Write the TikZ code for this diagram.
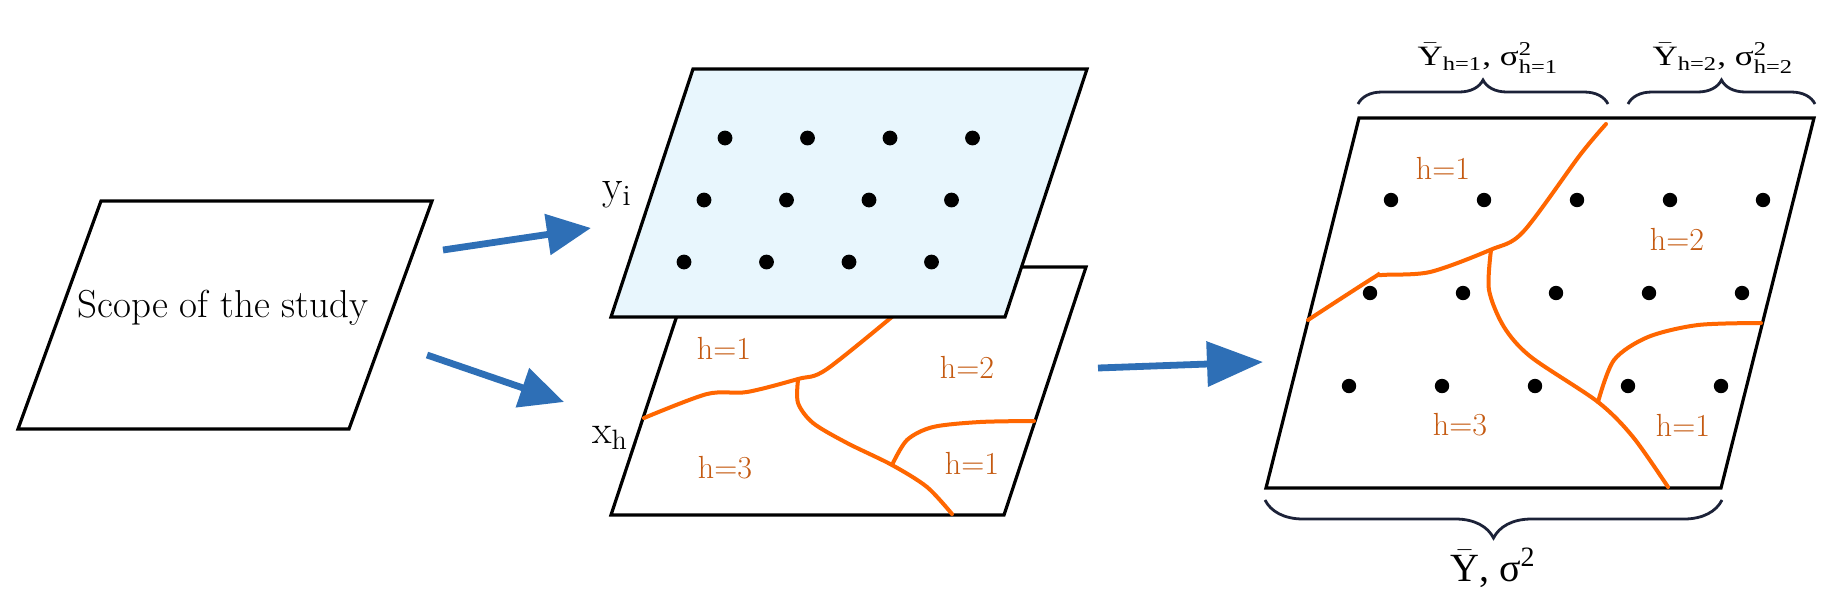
\documentclass[tikz,border=0pt]{standalone}
\usepackage{fontspec}
\usepackage{amsmath}
\usepackage{graphicx}
\newfontfamily\tms{Liberation Serif}
\usetikzlibrary{arrows.meta, decorations.pathreplacing}
\definecolor{flowblue}{RGB}{46,111,182}
\definecolor{paneblue}{RGB}{232,246,253}
\definecolor{bndorange}{RGB}{255,102,0}
\definecolor{laborange}{RGB}{197,90,17}
\definecolor{brcnavy}{RGB}{28,34,56}

\begin{document}
\begin{tikzpicture}[x=0.5pt,y=-0.5pt,
    panel/.style={draw=black,line width=1.6pt},
    bound/.style={draw=bndorange,line width=2pt,line cap=round},
    lab/.style={text=laborange,font=\fontsize{16}{18}\selectfont,inner sep=0pt},
    flow/.style={draw=flowblue,line width=3.4pt,-{Triangle[length=22pt,width=20pt]}},
    brc/.style={draw=brcnavy,line width=1.4pt,decorate,decoration={brace,amplitude=#1}},
    stat/.style={font=\tms\fontsize{14}{16}\selectfont,inner sep=0pt}]
  \useasboundingbox (0,0) rectangle (1831,606);

  \draw[panel,fill=white] (18,429) -- (349,429) -- (432,201) -- (101,201) -- cycle;
  \node[font=\fontsize{19.5}{22}\selectfont] (scope) at (223,308) {Scope of the study};

  \draw[panel,fill=white] (611,515) -- (1004,515) -- (1086,267) -- (693,267) -- cycle;
  \draw[bound] plot[smooth,tension=0.5] coordinates {(644,418) (707,394) (747,392) (798,379) (827,369) (905,306)};
  \draw[bound] plot[smooth,tension=0.5] coordinates {(798,380) (798,403) (813,423) (847,443) (892,465) (927,487) (952,514)};
  \draw[bound] plot[smooth,tension=0.5] coordinates {(892,465) (907,440) (933,427) (980,422) (1034,421)};
  \draw[panel,fill=paneblue] (611,317) -- (1005,317) -- (1087,69) -- (693,69) -- cycle;
  \foreach \k in {0,...,3} {
    \fill (725+82.5*\k,138) circle (3.7pt);
    \fill (704+82.5*\k,200) circle (3.7pt);
    \fill (684+82.5*\k,262) circle (3.7pt);
  }
  \node[font=\fontsize{21}{24}\selectfont] (yi) at (617,195) {y\textsubscript{i}};
  \node[font=\fontsize{20}{22}\selectfont] (xh) at (610,438) {x\textsubscript{h}};
  \node[lab] (m1) at (724,348) {h=1};
  \node[lab] (m2) at (967,367) {h=2};
  \node[lab] (m3) at (725,468) {h=3};
  \node[lab] (m4) at (972,463) {h=1};

  \draw[panel,fill=white] (1266,488) -- (1721,488) -- (1814,118) -- (1359,118) -- cycle;
  \draw[bound] plot[smooth,tension=0.5] coordinates {(1308,320) (1373,278) (1382,275) (1430,272) (1490,250) (1523,232) (1580,155) (1606,124)};
  \draw[bound] plot[smooth,tension=0.5] coordinates {(1491,250) (1489,290) (1504,327) (1531,357) (1598,402) (1633,437) (1668,487)};
  \draw[bound] plot[smooth,tension=0.5] coordinates {(1598,402) (1614,360) (1648,337) (1698,325) (1761,323)};
  \foreach \k in {0,...,4} {
    \fill (1391+93*\k,200) circle (3.6pt);
    \fill (1370+93*\k,293) circle (3.6pt);
    \fill (1349+93*\k,386) circle (3.6pt);
  }
  \node[lab] (r1) at (1443,168) {h=1};
  \node[lab] (r2) at (1677,239) {h=2};
  \node[lab] (r3) at (1460,425) {h=3};
  \node[lab] (r4) at (1683,425) {h=1};

  \draw[brc=12pt] (1358,104) -- (1608,104);
  \draw[brc=12pt] (1628,104) -- (1815,104);
  \draw[brc=19pt] (1722,500) -- (1265,500);
  \node[stat] (s1) at (1488,58) {\scalebox{1.25}[1]{$\bar{\text{Y}}_{\text{h=1}}$, $\text{σ}^{\text{2}}_{\text{h=1}}$}};
  \node[stat] (s2) at (1723,58) {\scalebox{1.25}[1]{$\bar{\text{Y}}_{\text{h=2}}$, $\text{σ}^{\text{2}}_{\text{h=2}}$}};
  \node[font=\tms\fontsize{20}{22}\selectfont,inner sep=0pt] (tot) at (1493,568) {$\bar{\text{Y}}$, $\text{σ}^{\text{2}}$};

  \coordinate (a1) at (443,250);
  \coordinate (b1) at (591,228);
  \coordinate (a2) at (427,355);
  \coordinate (b2) at (564,402);
  \coordinate (a3) at (1098,368);
  \coordinate (b3) at (1263,362);
  \draw[flow] (a1) -- (b1);
  \draw[flow] (a2) -- (b2);
  \draw[flow,-{Triangle[length=28pt,width=22pt]}] (a3) -- (b3);
\end{tikzpicture}
\end{document}
